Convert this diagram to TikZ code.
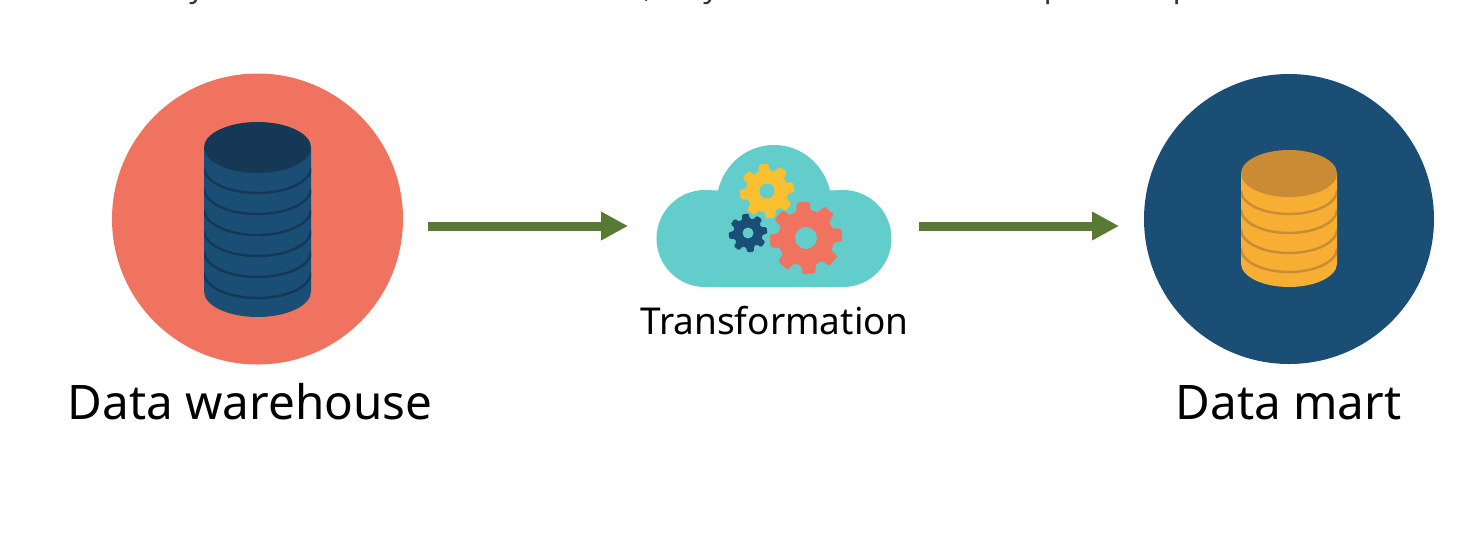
\documentclass[tikz,border=0pt]{standalone}
\usepackage{fontspec}
\setmainfont{Noto Sans}
\usetikzlibrary{arrows.meta,calc}
\definecolor{coral}{HTML}{EF735E}
\definecolor{navy}{HTML}{1A4E75}
\definecolor{navydark}{HTML}{143856}
\definecolor{amber}{HTML}{F6AE33}
\definecolor{amberdark}{HTML}{C98B33}
\definecolor{teal}{HTML}{63CDCB}
\definecolor{sun}{HTML}{FBC02F}
\definecolor{arrowgreen}{HTML}{587A35}
\tikzset{
  disc/.style={circle,inner sep=0pt,minimum size=#1},
  flow/.style={draw=arrowgreen,line width=9pt,-{Triangle[length=27pt,width=27pt,fill=arrowgreen]}},
  biglabel/.style={font=\fontsize{47.6}{50}\selectfont,text=black,inner sep=0pt,anchor=base},
  smalllabel/.style={font=\fontsize{37}{40}\selectfont,text=black,inner sep=0pt,anchor=base},
  remnant/.style={font=\fontsize{30}{32}\selectfont,text=black!80,inner sep=0pt,anchor=base},
}
% gear: centre x, y, outer r, body r, hole r, rotation, colour
\newcommand{\gearshape}[7]{%
  \fill[#7,rounded corners=1.3pt]
    \foreach \k in {0,...,7}{
      \pgfextra{\pgfmathsetmacro{\aa}{#6+\k*45-15}\pgfmathsetmacro{\ab}{#6+\k*45-10}\pgfmathsetmacro{\ac}{#6+\k*45+10}\pgfmathsetmacro{\ad}{#6+\k*45+15}}
      \ifnum\k=0 ($(#1,#2)+(\aa:#4 and -#4)$) \else -- ($(#1,#2)+(\aa:#4 and -#4)$) \fi
      -- ($(#1,#2)+(\ab:#3 and -#3)$) -- ($(#1,#2)+(\ac:#3 and -#3)$) -- ($(#1,#2)+(\ad:#4 and -#4)$)
      -- ($(#1,#2)+(#6+\k*45+22.5:#4 and -#4)$)
    } -- cycle;
  \fill[teal] (#1,#2) circle[radius=#5];
}
% cylinder: cx, top cy, bottom cy, rx, ry, body, dark, list of arc centre y
\newcommand{\drum}[8]{%
  \fill[#6] (#1-#4,#2) -- (#1-#4,#3) arc[start angle=180,end angle=360,x radius=#4,y radius=-#5] -- (#1+#4,#2) -- cycle;
  \fill[#7] (#1,#2) ellipse[x radius=#4,y radius=#5];
  \begin{scope}
    \clip (#1-#4,#2) rectangle (#1+#4,#3+30);
    \foreach \c in {#8}{
      \draw[#7,line width=2.4pt] (#1-#4,\c) arc[start angle=180,end angle=360,x radius=#4,y radius=-#5];
    }
  \end{scope}
}
\begin{document}
\begin{tikzpicture}[x=1pt,y=-1pt]
\useasboundingbox (0,0) rectangle (1480,558);
% clipped remnants of a text line above the picture
\begin{scope}
\clip (0,0) rectangle (1480,6);
\node[remnant] (t1) at (197,-3) {y};
\node[remnant] (t2) at (648,-3) {,};
\node[remnant] (t3) at (711,-3) {y};
\node[remnant] (t4) at (1053,-3) {p};
\node[remnant] (t5) at (1182,-3) {p};
\end{scope}
% discs
\node[disc=291pt,fill=coral] (warehouse) at (257.5,219) {};
\node[disc=290pt,fill=navy] (mart) at (1289,219) {};
\drum{257.5}{147.5}{291.5}{53.5}{25.5}{navy}{navydark}{167.5,188.5,209.5,230.5,251.5,272.5}
\drum{1289}{173.5}{263.5}{48}{23.5}{amber}{amberdark}{190.5,209.5,229.5,248.5}
% cloud
\fill[teal] (705,287) arc[start angle=90,end angle=270,radius=48.5] -- (718,190.5)
  .. controls (724,165) and (746,145) .. (774,145)
  .. controls (802,145) and (824,165) .. (830,190.5)
  -- (843,190) arc[start angle=-90,end angle=90,radius=48.5] -- cycle;
\gearshape{767}{191}{27.5}{21}{7.5}{8}{sun}
\gearshape{806}{238}{36.5}{28}{11}{5}{coral}
\gearshape{748}{233}{19.5}{14.5}{5.5}{8}{navy}
% labels
\node[biglabel] (wlabel) at (250,419) {Data warehouse};
\node[biglabel] (mlabel) at (1288.5,419) {Data mart};
\node[smalllabel] (tlabel) at (774.5,334) {Transformation};
% connectors
\coordinate (a1) at (428,226); \coordinate (a2) at (628,226);
\coordinate (b1) at (919,226); \coordinate (b2) at (1119,226);
\draw[flow] (a1) -- (a2);
\draw[flow] (b1) -- (b2);
\end{tikzpicture}
\end{document}
